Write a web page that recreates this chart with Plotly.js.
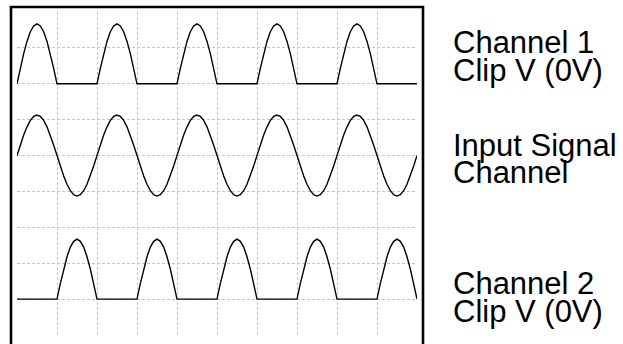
<!DOCTYPE html>
<html>
<head>
<meta charset="utf-8">
<script src="https://cdn.plot.ly/plotly-3.0.1.min.js"></script>
<style>
html,body{margin:0;padding:0;background:#fff;overflow:hidden;}
#chart{width:623px;height:344px;}
</style>
</head>
<body>
<div id="chart"></div>
<script>
// time, in grid divisions (one signal period = 2 divisions)
var time = [
  0, 0.083, 0.167, 0.25, 0.333, 0.417, 0.5, 0.583, 0.667, 0.75, 0.833, 0.917,
  1, 1.083, 1.167, 1.25, 1.333, 1.417, 1.5, 1.583, 1.667, 1.75, 1.833, 1.917,
  2, 2.083, 2.167, 2.25, 2.333, 2.417, 2.5, 2.583, 2.667, 2.75, 2.833, 2.917,
  3, 3.083, 3.167, 3.25, 3.333, 3.417, 3.5, 3.583, 3.667, 3.75, 3.833, 3.917,
  4, 4.083, 4.167, 4.25, 4.333, 4.417, 4.5, 4.583, 4.667, 4.75, 4.833, 4.917,
  5, 5.083, 5.167, 5.25, 5.333, 5.417, 5.5, 5.583, 5.667, 5.75, 5.833, 5.917,
  6, 6.083, 6.167, 6.25, 6.333, 6.417, 6.5, 6.583, 6.667, 6.75, 6.833, 6.917,
  7, 7.083, 7.167, 7.25, 7.333, 7.417, 7.5, 7.583, 7.667, 7.75, 7.833, 7.917,
  8, 8.083, 8.167, 8.25, 8.333, 8.417, 8.5, 8.583, 8.667, 8.75, 8.833, 8.917,
  9, 9.083, 9.167, 9.25, 9.333, 9.417, 9.5, 9.583, 9.667, 9.75, 9.833, 9.917,
  10
];

// Channel 1 (positive half, clipped at 0 V), drawn on the upper trace row
var channel1 = [
  7, 7.43, 7.84, 8.18, 8.45, 8.61, 8.67, 8.61, 8.45, 8.18, 7.84, 7.43, 7, 7, 7, 7, 7, 7, 7, 7, 7, 7, 7, 7,
  7, 7.43, 7.84, 8.18, 8.45, 8.61, 8.67, 8.61, 8.45, 8.18, 7.84, 7.43, 7, 7, 7, 7, 7, 7, 7, 7, 7, 7, 7, 7,
  7, 7.43, 7.84, 8.18, 8.45, 8.61, 8.67, 8.61, 8.45, 8.18, 7.84, 7.43, 7, 7, 7, 7, 7, 7, 7, 7, 7, 7, 7, 7,
  7, 7.43, 7.84, 8.18, 8.45, 8.61, 8.67, 8.61, 8.45, 8.18, 7.84, 7.43, 7, 7, 7, 7, 7, 7, 7, 7, 7, 7, 7, 7,
  7, 7.43, 7.84, 8.18, 8.45, 8.61, 8.67, 8.61, 8.45, 8.18, 7.84, 7.43, 7, 7, 7, 7, 7, 7, 7, 7, 7, 7, 7, 7,
  7
];

// Input signal, middle trace row
var inputSignal = [
  5, 5.29, 5.57, 5.80, 5.98, 6.09, 6.13, 6.09, 5.98, 5.80, 5.57, 5.29, 5, 4.71, 4.43, 4.20, 4.02, 3.91, 3.87, 3.91, 4.02, 4.20, 4.43, 4.71,
  5, 5.29, 5.57, 5.80, 5.98, 6.09, 6.13, 6.09, 5.98, 5.80, 5.57, 5.29, 5, 4.71, 4.43, 4.20, 4.02, 3.91, 3.87, 3.91, 4.02, 4.20, 4.43, 4.71,
  5, 5.29, 5.57, 5.80, 5.98, 6.09, 6.13, 6.09, 5.98, 5.80, 5.57, 5.29, 5, 4.71, 4.43, 4.20, 4.02, 3.91, 3.87, 3.91, 4.02, 4.20, 4.43, 4.71,
  5, 5.29, 5.57, 5.80, 5.98, 6.09, 6.13, 6.09, 5.98, 5.80, 5.57, 5.29, 5, 4.71, 4.43, 4.20, 4.02, 3.91, 3.87, 3.91, 4.02, 4.20, 4.43, 4.71,
  5, 5.29, 5.57, 5.80, 5.98, 6.09, 6.13, 6.09, 5.98, 5.80, 5.57, 5.29, 5, 4.71, 4.43, 4.20, 4.02, 3.91, 3.87, 3.91, 4.02, 4.20, 4.43, 4.71,
  5
];

// Channel 2 (negative half, inverted, clipped at 0 V), lower trace row
var channel2 = [
  1, 1, 1, 1, 1, 1, 1, 1, 1, 1, 1, 1, 1, 1.43, 1.84, 2.18, 2.45, 2.61, 2.67, 2.61, 2.45, 2.18, 1.84, 1.43,
  1, 1, 1, 1, 1, 1, 1, 1, 1, 1, 1, 1, 1, 1.43, 1.84, 2.18, 2.45, 2.61, 2.67, 2.61, 2.45, 2.18, 1.84, 1.43,
  1, 1, 1, 1, 1, 1, 1, 1, 1, 1, 1, 1, 1, 1.43, 1.84, 2.18, 2.45, 2.61, 2.67, 2.61, 2.45, 2.18, 1.84, 1.43,
  1, 1, 1, 1, 1, 1, 1, 1, 1, 1, 1, 1, 1, 1.43, 1.84, 2.18, 2.45, 2.61, 2.67, 2.61, 2.45, 2.18, 1.84, 1.43,
  1, 1, 1, 1, 1, 1, 1, 1, 1, 1, 1, 1, 1, 1.43, 1.84, 2.18, 2.45, 2.61, 2.67, 2.61, 2.45, 2.18, 1.84, 1.43,
  1
];

var xGrid = [1, 2, 3, 4, 5, 6, 7, 8, 9];
var yGrid = [1, 2, 3, 4, 5, 6, 7, 8];

var labelLines = ["Channel 1", "Clip V (0V)", "Input Signal", "Channel", "Channel 2", "Clip V (0V)"];
var labelPos = [0.905, 0.818, 0.586, 0.504, 0.158, 0.072];

var lineStyle = {color: "#000000", width: 1.4};
var traces = [
  {x: time, y: channel1, mode: "lines", line: lineStyle, hoverinfo: "skip", name: "Channel 1"},
  {x: time, y: inputSignal, mode: "lines", line: lineStyle, hoverinfo: "skip", name: "Input Signal"},
  {x: time, y: channel2, mode: "lines", line: lineStyle, hoverinfo: "skip", name: "Channel 2"}
];

var annotations = labelLines.map(function (t, i) {
  return {
    text: t, xref: "paper", yref: "paper", x: 1.085, y: labelPos[i],
    xanchor: "left", yanchor: "middle", showarrow: false, align: "left",
    font: {family: "Liberation Sans, Arial, sans-serif", size: 31, color: "#000"}
  };
});

var layout = {
  width: 623, height: 344,
  margin: {l: 17, r: 206, t: 12, b: 9, pad: 0},
  paper_bgcolor: "#ffffff", plot_bgcolor: "#ffffff",
  showlegend: false,
  xaxis: {
    range: [0, 10], tickvals: xGrid, showticklabels: false, ticks: "",
    showgrid: true, gridcolor: "#c4c4c4", gridwidth: 1, griddash: "3px,2px",
    zeroline: false, showline: false, fixedrange: true
  },
  yaxis: {
    range: [0, 9], tickvals: yGrid, showticklabels: false, ticks: "",
    showgrid: true, gridcolor: "#c4c4c4", gridwidth: 1, griddash: "3px,2px",
    zeroline: false, showline: false, fixedrange: true
  },
  shapes: [{
    type: "rect", xref: "paper", yref: "paper",
    x0: -0.015, x1: 1.015, y0: -0.06, y1: 1.0155,
    line: {color: "#000", width: 2.6}, fillcolor: "rgba(0,0,0,0)", layer: "above"
  }],
  annotations: annotations
};

Plotly.newPlot("chart", traces, layout, {staticPlot: true, displayModeBar: false});
</script>
</body>
</html>
